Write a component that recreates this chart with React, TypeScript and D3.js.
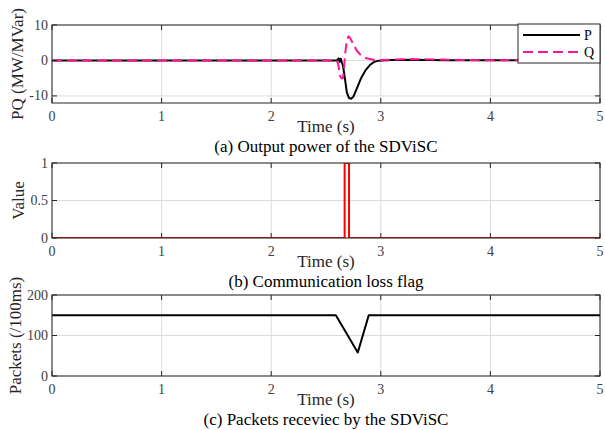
import React from "react";
import * as d3 from "d3";

// time axis
const timeTicks = [0, 1, 2, 3, 4, 5];

// (a) output power
const pTime = [0, 2.6, 2.615, 2.625, 2.635, 2.645, 2.655, 2.67, 2.69, 2.71, 2.73, 2.75, 2.78, 2.82, 2.86, 2.9, 2.94, 2.98, 3.1, 3.3, 3.6, 5];
const pValue = [0, 0, 0.6, -0.4, 0.5, -0.6, -1.5, -4.5, -9, -10.6, -10.8, -10.2, -8, -5, -2.8, -1.3, -0.4, -0.05, 0.1, 0.2, 0.05, 0];
const qTime = [0, 2.6, 2.615, 2.625, 2.64, 2.655, 2.665, 2.675, 2.69, 2.705, 2.72, 2.75, 2.78, 2.82, 2.87, 2.93, 3.0, 3.2, 3.5, 3.8, 5];
const qValue = [0, 0, -1.5, -4.2, -5, -5, -2, 2, 5.5, 6.8, 6.3, 4.6, 2.8, 1.4, 0.6, 0.2, 0.1, 0.35, 0.3, 0.1, 0];
const pqTicks = [-10, 0, 10];

// (b) communication loss flag
const flagTime = [0, 2.67, 2.67, 2.71, 2.71, 5];
const flagValue = [0, 0, 1, 1, 0, 0];
const flagTicks = [0, 0.5, 1];

// (c) packets received
const pktTime = [0, 2.59, 2.79, 2.89, 5];
const pktValue = [150, 150, 58, 150, 150];
const pktTicks = [0, 100, 200];

const W = 605;
const H = 430;
const left = 52;
const right = 600;
const font = "'Liberation Serif', 'Times New Roman', serif";
const ink = "#262626";
const tickInk = "#404040";

const x = d3.scaleLinear().domain([0, 5]).range([left, right]);

type Series = { t: number[]; v: number[]; color: string; width: number; dash?: string };

type PanelProps = {
  id: string;
  top: number;
  bottom: number;
  domain: [number, number];
  ticks: number[];
  ylabel: string;
  ylabelX: number;
  caption: string;
  series: Series[];
  legend?: boolean;
};

const Panel = ({ id, top, bottom, domain, ticks, ylabel, ylabelX, caption, series, legend }: PanelProps) => {
  const y = d3.scaleLinear().domain(domain).range([bottom, top]);
  const line = d3
    .line<[number, number]>()
    .x((d) => x(d[0]))
    .y((d) => y(d[1]));
  const tl = 5;
  const mid = (left + right) / 2;

  return (
    <g>
      <defs>
        <clipPath id={"clip-" + id}>
          <rect x={left} y={top} width={right - left} height={bottom - top} />
        </clipPath>
      </defs>
      <rect x={left} y={top} width={right - left} height={bottom - top} fill="#fff" />
      {/* grid */}
      {timeTicks.map((t) => (
        <line key={"gx" + t} x1={x(t)} x2={x(t)} y1={top} y2={bottom} stroke="#dcdcdc" strokeWidth={1} />
      ))}
      {ticks.map((v) => (
        <line key={"gy" + v} x1={left} x2={right} y1={y(v)} y2={y(v)} stroke="#dcdcdc" strokeWidth={1} />
      ))}
      {/* data */}
      <g clipPath={`url(#clip-${id})`}>
        {series.map((s, i) => (
          <path
            key={i}
            d={line(s.t.map((t, j) => [t, s.v[j]] as [number, number])) || ""}
            fill="none"
            stroke={s.color}
            strokeWidth={s.width}
            strokeDasharray={s.dash}
            strokeLinejoin="round"
          />
        ))}
      </g>
      {/* box and ticks */}
      <rect x={left} y={top} width={right - left} height={bottom - top} fill="none" stroke={ink} strokeWidth={1} />
      {timeTicks.map((t) => (
        <g key={"tx" + t}>
          <line x1={x(t)} x2={x(t)} y1={bottom} y2={bottom - tl} stroke={ink} />
          <line x1={x(t)} x2={x(t)} y1={top} y2={top + tl} stroke={ink} />
          <text x={x(t)} y={bottom + 18} textAnchor="middle" fontSize={14} fill={tickInk}>
            {t}
          </text>
        </g>
      ))}
      {ticks.map((v) => (
        <g key={"ty" + v}>
          <line x1={left} x2={left + tl} y1={y(v)} y2={y(v)} stroke={ink} />
          <line x1={right} x2={right - tl} y1={y(v)} y2={y(v)} stroke={ink} />
          <text x={left - 4} y={y(v)} textAnchor="end" dominantBaseline="central" fontSize={14} fill={tickInk}>
            {v}
          </text>
        </g>
      ))}
      <text x={mid} y={bottom + 29} textAnchor="middle" fontSize={17} fill={ink}>
        Time (s)
      </text>
      <text
        transform={`translate(${ylabelX},${(top + bottom) / 2}) rotate(-90)`}
        textAnchor="middle"
        fontSize={17}
        fill={ink}
      >
        {ylabel}
      </text>
      <text x={mid} y={bottom + 49} textAnchor="middle" fontSize={17} fill="#000">
        {caption}
      </text>
      {legend && (
        <g>
          <rect x={518} y={top - 1} width={right - 518} height={39} fill="#fff" stroke={ink} strokeWidth={1} />
          <line x1={523} x2={580} y1={top + 10} y2={top + 10} stroke="#000" strokeWidth={2} />
          <text x={584} y={top + 10} dominantBaseline="central" fontSize={14} fill="#000">
            P
          </text>
          <line x1={523} x2={580} y1={top + 27} y2={top + 27} stroke="#ff1493" strokeWidth={2} strokeDasharray="10,5" />
          <text x={584} y={top + 27} dominantBaseline="central" fontSize={14} fill="#000">
            Q
          </text>
        </g>
      )}
    </g>
  );
};

export default function App() {
  return (
    <svg
      width={W}
      height={H}
      style={{ position: "absolute", left: 0, top: 0, background: "#fff", fontFamily: font }}
    >
      <Panel
        id="a"
        top={25}
        bottom={103}
        domain={[-12, 10]}
        ticks={pqTicks}
        ylabel="PQ (MW/MVar)"
        ylabelX={23}
        caption="(a) Output power of the SDViSC"
        legend
        series={[
          { t: pTime, v: pValue, color: "#000", width: 2 },
          { t: qTime, v: qValue, color: "#ff1493", width: 2, dash: "10,5" },
        ]}
      />
      <Panel
        id="b"
        top={163}
        bottom={238}
        domain={[0, 1]}
        ticks={flagTicks}
        ylabel="Value"
        ylabelX={24}
        caption="(b) Communication loss flag"
        series={[{ t: flagTime, v: flagValue, color: "#ff0000", width: 2 }]}
      />
      <Panel
        id="c"
        top={295}
        bottom={376}
        domain={[0, 200]}
        ticks={pktTicks}
        ylabel="Packets (/100ms)"
        ylabelX={21}
        caption="(c) Packets receviec by the SDViSC"
        series={[{ t: pktTime, v: pktValue, color: "#000", width: 2 }]}
      />
    </svg>
  );
}
